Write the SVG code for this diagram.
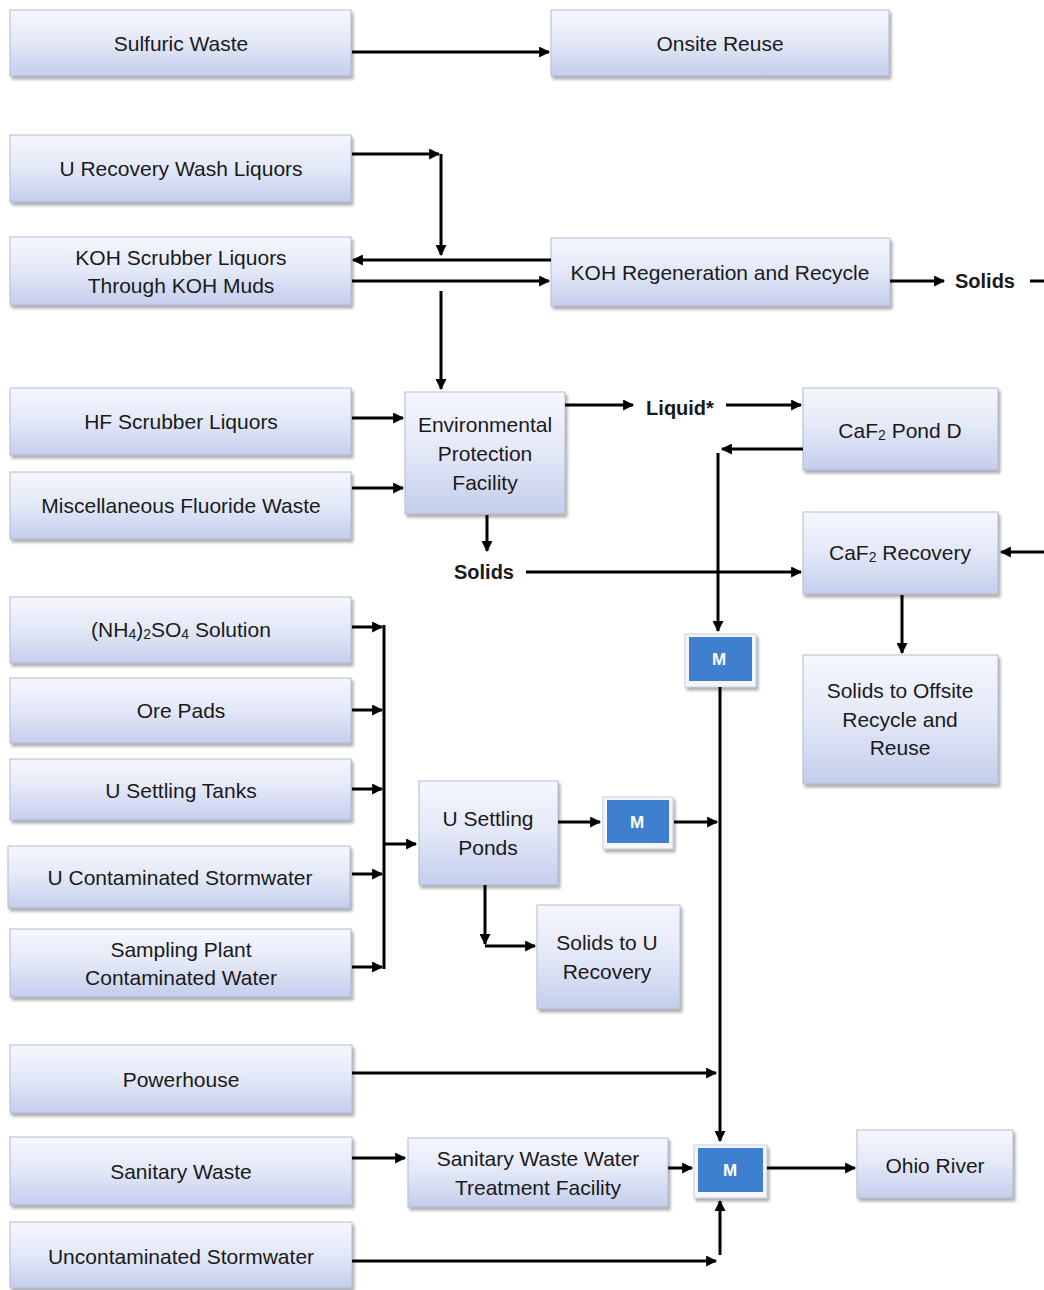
<svg xmlns="http://www.w3.org/2000/svg" width="1044" height="1290" viewBox="0 0 1044 1290">
<defs>
<linearGradient id="g" x1="0" y1="0" x2="0" y2="1">
<stop offset="0" stop-color="#f6f7fd"/>
<stop offset="0.5" stop-color="#e3e8f7"/>
<stop offset="1" stop-color="#c4cdec"/>
</linearGradient>
<filter id="sh" x="-10%" y="-10%" width="125%" height="135%">
<feDropShadow dx="2" dy="3" stdDeviation="1.5" flood-color="#777" flood-opacity="0.6"/>
</filter>
<marker id="a" viewBox="0 0 10 10" refX="9" refY="5" markerWidth="12" markerHeight="11" markerUnits="userSpaceOnUse" orient="auto">
<path d="M0,0 L10,5 L0,10 z" fill="#000"/>
</marker>
<style>
.n rect.b{fill:url(#g);stroke:#b3bbd8;stroke-width:1;filter:url(#sh)}
.n text,.lbl{font-family:"Liberation Sans",Arial,sans-serif;font-size:21px;fill:#1a1a1a;text-anchor:middle;dominant-baseline:central}
.lbl{font-weight:bold;font-size:20px}
.m rect.o{fill:#f4f6fb;stroke:#c8cde0;stroke-width:1;filter:url(#sh)}
.m rect.i{fill:#3f7fcf}
.m text{font-family:"Liberation Sans",Arial,sans-serif;font-size:17px;font-weight:bold;fill:#fff;text-anchor:middle;dominant-baseline:central}
.c path,.c line{fill:none;stroke:#000;stroke-width:3}
.c .ar{marker-end:url(#a)}
.sub{font-size:14px}
</style>
</defs>
<rect width="1044" height="1290" fill="#fff"/>

<g id="n-sulfuric" class="n"><rect class="b" x="10" y="10" width="341" height="66"/><text x="181" y="43">Sulfuric Waste</text></g>
<g id="n-onsite" class="n"><rect class="b" x="551" y="10" width="338" height="66"/><text x="720" y="43">Onsite Reuse</text></g>
<g id="n-urecov" class="n"><rect class="b" x="10" y="135" width="341" height="67"/><text x="181" y="168">U Recovery Wash Liquors</text></g>
<g id="n-kohscrub" class="n"><rect class="b" x="10" y="237" width="341" height="68"/><text x="181" y="257">KOH Scrubber Liquors</text><text x="181" y="285">Through KOH Muds</text></g>
<g id="n-kohregen" class="n"><rect class="b" x="551" y="238" width="339" height="68"/><text x="720" y="272">KOH Regeneration and Recycle</text></g>
<g id="n-hf" class="n"><rect class="b" x="10" y="388" width="341" height="67"/><text x="181" y="421">HF Scrubber Liquors</text></g>
<g id="n-misc" class="n"><rect class="b" x="10" y="472" width="341" height="67"/><text x="181" y="505">Miscellaneous Fluoride Waste</text></g>
<g id="n-epf" class="n"><rect class="b" x="405" y="392" width="160" height="122"/><text x="485" y="424">Environmental</text><text x="485" y="453">Protection</text><text x="485" y="482">Facility</text></g>
<g id="n-pondd" class="n"><rect class="b" x="803" y="388" width="195" height="82"/><text x="900" y="430">CaF<tspan class="sub" dy="5">2</tspan><tspan dy="-5"> Pond D</tspan></text></g>
<g id="n-caf2rec" class="n"><rect class="b" x="803" y="512" width="195" height="82"/><text x="900" y="552">CaF<tspan class="sub" dy="5">2</tspan><tspan dy="-5"> Recovery</tspan></text></g>
<g id="n-offsite" class="n"><rect class="b" x="803" y="655" width="195" height="129"/><text x="900" y="690">Solids to Offsite</text><text x="900" y="719">Recycle and</text><text x="900" y="747">Reuse</text></g>
<g id="n-nh4" class="n"><rect class="b" x="10" y="597" width="341" height="66"/><text x="181" y="629">(NH<tspan class="sub" dy="5">4</tspan><tspan dy="-5">)</tspan><tspan class="sub" dy="5">2</tspan><tspan dy="-5">SO</tspan><tspan class="sub" dy="5">4</tspan><tspan dy="-5"> Solution</tspan></text></g>
<g id="n-orepads" class="n"><rect class="b" x="10" y="678" width="341" height="65"/><text x="181" y="710">Ore Pads</text></g>
<g id="n-utanks" class="n"><rect class="b" x="10" y="759" width="341" height="61"/><text x="181" y="790">U Settling Tanks</text></g>
<g id="n-ustorm" class="n"><rect class="b" x="8" y="846" width="342" height="62"/><text x="180" y="877">U Contaminated Stormwater</text></g>
<g id="n-sampling" class="n"><rect class="b" x="10" y="929" width="341" height="68"/><text x="181" y="949">Sampling Plant</text><text x="181" y="977">Contaminated Water</text></g>
<g id="n-uponds" class="n"><rect class="b" x="419" y="781" width="139" height="104"/><text x="488" y="818">U Settling</text><text x="488" y="847">Ponds</text></g>
<g id="n-solidsu" class="n"><rect class="b" x="537" y="905" width="143" height="104"/><text x="607" y="942">Solids to U</text><text x="607" y="971">Recovery</text></g>
<g id="n-power" class="n"><rect class="b" x="10" y="1045" width="342" height="68"/><text x="181" y="1079">Powerhouse</text></g>
<g id="n-sanitary" class="n"><rect class="b" x="10" y="1137" width="342" height="68"/><text x="181" y="1171">Sanitary Waste</text></g>
<g id="n-swwtf" class="n"><rect class="b" x="408" y="1138" width="260" height="69"/><text x="538" y="1158">Sanitary Waste Water</text><text x="538" y="1187">Treatment Facility</text></g>
<g id="n-uncont" class="n"><rect class="b" x="10" y="1222" width="342" height="66"/><text x="181" y="1256">Uncontaminated Stormwater</text></g>
<g id="n-ohio" class="n"><rect class="b" x="857" y="1130" width="156" height="68"/><text x="935" y="1165">Ohio River</text></g>

<g id="m1" class="m"><rect class="o" x="685" y="634" width="71" height="53"/><rect class="i" x="689" y="637" width="63" height="44"/><text x="719" y="659">M</text></g>
<g id="m2" class="m"><rect class="o" x="603" y="797" width="70" height="52"/><rect class="i" x="607" y="800" width="62" height="43"/><text x="637" y="822">M</text></g>
<g id="m3" class="m"><rect class="o" x="694" y="1145" width="73" height="53"/><rect class="i" x="698" y="1148" width="65" height="44"/><text x="730" y="1170">M</text></g>

<g id="labels">
<text class="lbl" x="985" y="281">Solids</text>
<text class="lbl" x="680" y="408">Liquid*</text>
<text class="lbl" x="484" y="572">Solids</text>
</g>

<g id="connectors" class="c">
<line class="ar" x1="352" y1="52" x2="549" y2="52"/>
<path class="ar" d="M352,154 H439"/>
<path class="ar" d="M441,154 V255"/>
<line class="ar" x1="551" y1="260" x2="353" y2="260"/>
<line class="ar" x1="352" y1="281" x2="549" y2="281"/>
<path class="ar" d="M441,291 V389"/>
<line class="ar" x1="890" y1="281" x2="944" y2="281"/>
<line x1="1030" y1="281" x2="1044" y2="281"/>
<line class="ar" x1="352" y1="418" x2="403" y2="418"/>
<line class="ar" x1="352" y1="488" x2="403" y2="488"/>
<line class="ar" x1="565" y1="405" x2="633" y2="405"/>
<line class="ar" x1="726" y1="405" x2="801" y2="405"/>
<line class="ar" x1="803" y1="449" x2="722" y2="449"/>
<path class="ar" d="M718,453 V631"/>
<path class="ar" d="M487,515 V551"/>
<line class="ar" x1="526" y1="572" x2="801" y2="572"/>
<line class="ar" x1="1044" y1="552" x2="1001" y2="552"/>
<path class="ar" d="M902,595 V653"/>
<path class="ar" d="M720,687 V1141"/>
<line class="ar" x1="352" y1="627" x2="382" y2="627"/>
<line class="ar" x1="352" y1="710" x2="382" y2="710"/>
<line class="ar" x1="352" y1="789" x2="382" y2="789"/>
<line class="ar" x1="352" y1="874" x2="382" y2="874"/>
<line class="ar" x1="352" y1="967" x2="382" y2="967"/>
<line x1="384" y1="625" x2="384" y2="969"/>
<line class="ar" x1="384" y1="844" x2="416" y2="844"/>
<line class="ar" x1="558" y1="822" x2="600" y2="822"/>
<line class="ar" x1="674" y1="822" x2="717" y2="822"/>
<path class="ar" d="M485,885 V944"/>
<path class="ar" d="M485,946 H535"/>
<line class="ar" x1="352" y1="1073" x2="716" y2="1073"/>
<line class="ar" x1="352" y1="1158" x2="405" y2="1158"/>
<line class="ar" x1="668" y1="1168" x2="692" y2="1168"/>
<line class="ar" x1="767" y1="1168" x2="855" y2="1168"/>
<line class="ar" x1="352" y1="1261" x2="716" y2="1261"/>
<path class="ar" d="M720,1255 V1201"/>
</g>
</svg>
